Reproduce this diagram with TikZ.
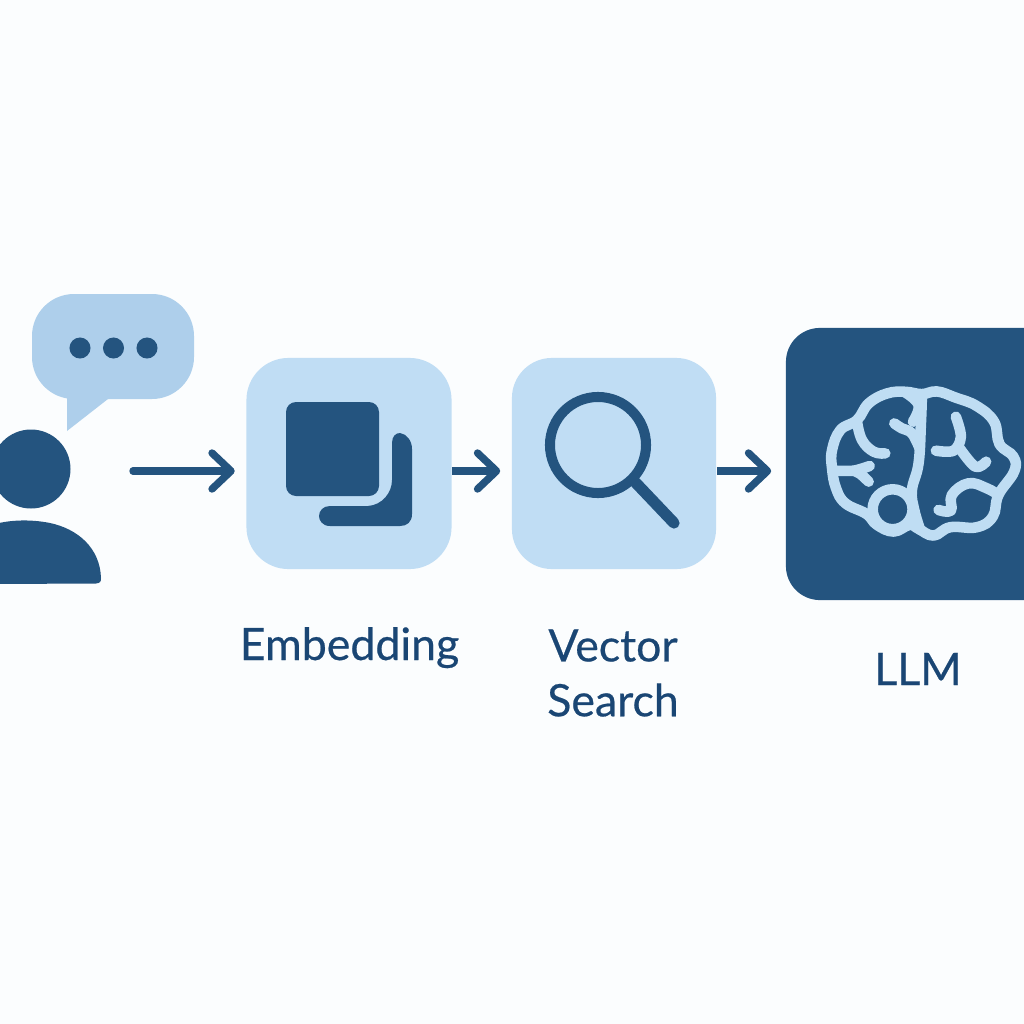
\documentclass[tikz,border=0pt]{standalone}
\usepackage{fontspec}
\setmainfont{Lato}[FakeBold=0.5]
\usetikzlibrary{arrows.meta,positioning}
\definecolor{pagebg}{HTML}{FBFDFE}
\definecolor{navy}{HTML}{24547F}
\definecolor{textnavy}{HTML}{1A4674}
\definecolor{paleblue}{HTML}{C0DDF4}
\definecolor{bubbleblue}{HTML}{AECFEB}
\definecolor{brainblue}{HTML}{BFDDF3}
\tikzset{
	stagebox/.style={draw=none,fill=paleblue,rounded corners=.42cm,minimum width=2.05cm,minimum height=2.11cm,inner sep=0pt},
	stagelabel/.style={text=textnavy,font=\fontsize{12.7}{15.6}\selectfont,align=center,inner sep=0pt},
	flow/.style={navy,line width=2.1pt,-{Straight Barb[length=1.9mm,width=3.6mm,line width=2.1pt,round]}},
	dot/.style={circle,fill=navy,minimum size=.21cm,inner sep=0pt},
	brainline/.style={brainblue,line width=3pt,line cap=round,line join=round}
}
\begin{document}
\begin{tikzpicture}[x=.01cm,y=-.01cm]
	\fill[pagebg] (0,0) rectangle (1024,1024);
	\useasboundingbox (0,0) rectangle (1024,1024);

	%% the three stages
	\node[stagebox] (embed) at (349,463.5) {};
	\node[stagebox,minimum width=2.04cm,rounded corners=.4cm] (search) at (614,463.5) {};
	\node[stagebox,fill=navy,minimum width=2.8cm,minimum height=2.72cm,rounded corners=.34cm] (llm) at (926,464) {};

	%% the user
	\fill[navy] (31,469) circle (39.5);
	\fill[navy] (-5,524) .. controls (10,520) and (30,519) .. (50,523)
		.. controls (78,529) and (100,548) .. (101,578)
		.. controls (101,582) and (100,583) .. (96,583.5) -- (-5,584) -- cycle;
	\fill[bubbleblue,rounded corners=.42cm] (32,294) rectangle (194,399);
	\fill[bubbleblue] (67,390) -- (67,431) -- (108,399) -- (108,390) -- cycle;
	\node[dot] (d1) at (80,348) {};
	\node[dot] (d2) at (113.5,348) {};
	\node[dot] (d3) at (147,348) {};
	\coordinate (user) at (133,471);

	%% arrows
	\draw[flow,line cap=round,shorten >=.11cm] (user) -- (embed.west |- user);
	\draw[flow,shorten >=.11cm] (embed.east |- user) -- (search.west |- user);
	\draw[flow,shorten >=.14cm] (search.east |- user) -- (llm.west |- user);

	%% embedding icon
	\fill[navy,rounded corners=.1cm] (286,402) rectangle (379,496);
	\fill[navy] (392,443) .. controls (392,436) and (396,433) .. (400,433)
		.. controls (407,434) and (412,441) .. (412,449) -- (412,514)
		.. controls (412,522) and (407,526) .. (400,526) -- (330,526)
		.. controls (322,526) and (319,520) .. (319,516)
		.. controls (319,511) and (323,506) .. (330,506) -- (368,506)
		.. controls (382,505) and (392,493) .. (392,480) -- cycle;

	%% magnifier
	\node[circle,draw=navy,line width=2.85pt,minimum size=.96cm,inner sep=0pt] (lens) at (598,445) {};
	\draw[navy,line width=3.2pt,line cap=round] (lens.-45) -- (674,523);

	%% brain
	\begin{scope}[shift={(7.9cm,-3.4cm)},x=.00333cm,y=-.00333cm]
		\draw[brainline] plot[smooth cycle,tension=.7] coordinates {(395,162) (440,154) (495,172) (560,198) (612,245) (628,312) (670,350) (672,395) (625,465) (608,530) (560,562) (480,562) (430,587) (385,567) (358,555) (310,575) (260,555) (228,522) (165,490) (137,445) (125,385) (125,330) (150,270) (200,240) (235,190) (290,160) (345,155)};
		\draw[brainline] plot[smooth,tension=.7] coordinates {(395,165) (392,250) (385,370) (365,450) (372,510) (390,570)};
		\draw[brainline] plot[smooth,tension=.7] coordinates {(345,157) (385,195) (368,245)};
		\draw[brainline] plot[smooth,tension=.7] coordinates {(312,250) (335,265) (365,280) (388,325)};
		\draw[brainline] plot[smooth,tension=.7] coordinates {(200,245) (215,300) (250,335) (285,340)};
		\draw[brainline] plot[smooth,tension=.5] coordinates {(130,392) (190,392) (238,378)};
		\draw[brainline] plot[smooth,tension=.5] coordinates {(190,392) (210,402) (235,425)};
		\draw[brainline] (307,508) circle (60);
		\draw[brainline] plot[smooth,tension=.7] coordinates {(445,510) (482,512) (485,465) (535,430) (590,445) (625,465)};
		\draw[brainline] plot[smooth,tension=.6] coordinates {(497,230) (512,290) (490,332) (437,332)};
		\draw[brainline] plot[smooth,tension=.6] coordinates {(505,320) (555,380) (588,365)};
	\end{scope}

	%% labels
	\node[stagelabel,anchor=base] (embedlabel) at (349.5,660) {Embedding};
	\node[stagelabel] (searchlabel) at (613,673) {Vector\\Search};
	\node[stagelabel,anchor=base] (llmlabel) at (918,685) {LLM};
\end{tikzpicture}
\end{document}
